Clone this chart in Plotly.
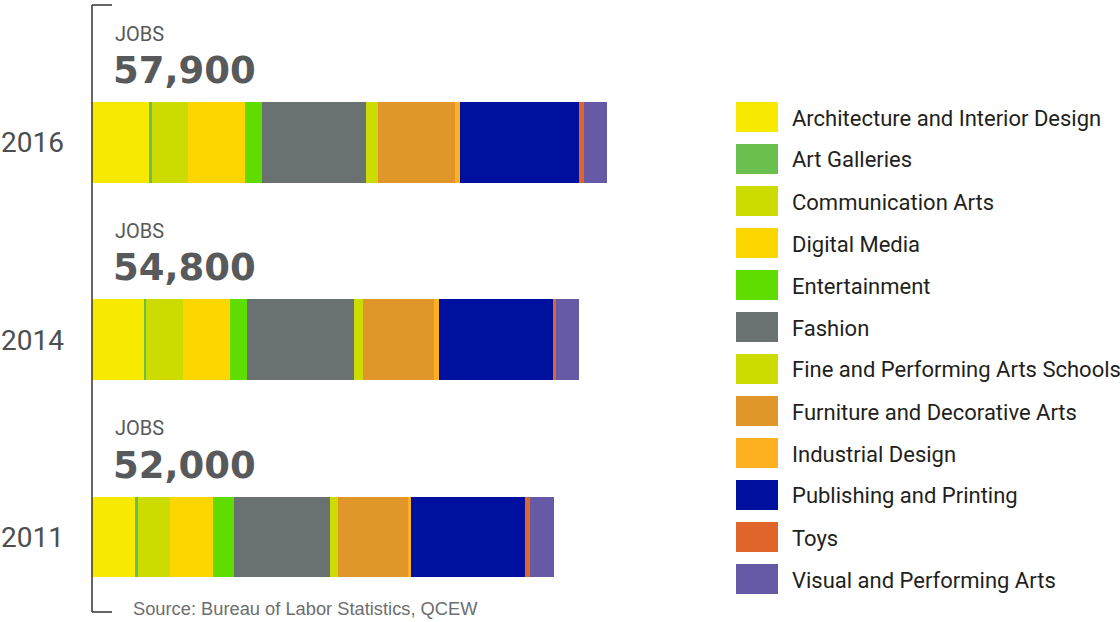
import plotly.graph_objects as go

# Creative-economy employment by industry, stacked per year
years = ["2011", "2014", "2016"]
totals = [52000, 54800, 57900]

industries = [
    "Architecture and Interior Design",
    "Art Galleries",
    "Communication Arts",
    "Digital Media",
    "Entertainment",
    "Fashion",
    "Fine and Performing Arts Schools",
    "Furniture and Decorative Arts",
    "Industrial Design",
    "Publishing and Printing",
    "Toys",
    "Visual and Performing Arts",
]

# jobs per industry, in the same order as `years`
jobs_2011 = [4910, 220, 3600, 4830, 2360, 10850, 900, 7980, 220, 12820, 560, 2750]
jobs_2014 = [5850, 220, 4160, 5300, 1910, 12000, 1010, 8000, 560, 12800, 340, 2650]
jobs_2016 = [6370, 340, 4050, 6410, 1910, 11690, 1350, 8660, 560, 13410, 560, 2590]

colors = [
    "#F8E900", "#6BBF4F", "#CDDC00", "#FDD600", "#5FDC00", "#697171",
    "#CDDC00", "#E09628", "#FDB120", "#00109E", "#E0652A", "#6659A6",
]

W, H = 1120, 622
L, R, T, B = 92, 0, 5, 10
PW, PH = W - L - R, H - T - B
PX_PER_JOB = 8.89 / 1000.0


def px_x(px):
    return (px - L) / PW


def px_y(py):
    return (H - B - py) / PH


fig = go.Figure()
per_year = [jobs_2011, jobs_2014, jobs_2016]
for i, name in enumerate(industries):
    fig.add_trace(go.Bar(
        y=[0, 1, 2],
        x=[per_year[k][i] for k in range(3)],
        orientation="h",
        name=name,
        width=0.41,
        marker=dict(color=colors[i], line=dict(width=0)),
        showlegend=False,
        hoverinfo="name+x",
    ))

# "JOBS" caption and total above each bar
annotations = []
for k, total in enumerate(totals):
    annotations.append(dict(
        x=0, y=k, xref="x", yref="y", xanchor="left", yanchor="middle",
        xshift=21, yshift=109, showarrow=False, text="JOBS",
        font=dict(family="Roboto", size=20, color="#58595B"),
    ))
    annotations.append(dict(
        x=0, y=k, xref="x", yref="y", xanchor="left", yanchor="middle",
        xshift=19, yshift=72, showarrow=False, text=f"{total:,}",
        font=dict(family="DejaVu Sans", size=37, color="#58595B", weight="bold"),
    ))

annotations.append(dict(
    x=px_x(131), y=px_y(608), xref="paper", yref="paper",
    xanchor="left", yanchor="middle", showarrow=False,
    text="Source: Bureau of Labor Statistics, QCEW",
    font=dict(family="Liberation Sans", size=18.3, color="#6D6E70"),
))

shapes = []
# bracket along the category axis
line_style = dict(color="#333333", width=1.5)
shapes.append(dict(type="line", xref="paper", yref="paper", x0=0, x1=0, y0=0, y1=1, line=line_style))
shapes.append(dict(type="line", xref="paper", yref="paper", x0=0, x1=px_x(112), y0=1, y1=1, line=line_style))
shapes.append(dict(type="line", xref="paper", yref="paper", x0=0, x1=px_x(112), y0=0, y1=0, line=line_style))

# legend: swatches with labels
for i, name in enumerate(industries):
    cy = 117 + 42 * i
    shapes.append(dict(
        type="rect", xref="paper", yref="paper",
        x0=px_x(736), x1=px_x(778), y0=px_y(cy + 15), y1=px_y(cy - 15),
        fillcolor=colors[i], line=dict(width=0),
    ))
    annotations.append(dict(
        x=px_x(790), y=px_y(cy + 1), xref="paper", yref="paper",
        xanchor="left", yanchor="middle", showarrow=False, text=name,
        font=dict(family="Roboto", size=22, color="#231F20"),
    ))

y_top = 2 + (142.5 - T) / 197.25
y_bot = y_top - PH / 197.25

fig.update_layout(
    width=W, height=H,
    margin=dict(l=L, r=R, t=T, b=B),
    paper_bgcolor="white", plot_bgcolor="white",
    barmode="stack",
    bargap=0,
    xaxis=dict(visible=False, range=[0, PW / PX_PER_JOB], fixedrange=True),
    yaxis=dict(
        range=[y_bot, y_top], tickvals=[0, 1, 2], ticktext=years,
        showgrid=False, zeroline=False, showline=False, ticks="",
        ticklabelstandoff=27,
        tickfont=dict(family="Roboto", size=28, color="#4D4E50"),
        fixedrange=True,
    ),
    annotations=annotations,
    shapes=shapes,
    showlegend=False,
)

fig.write_html("out.html")
